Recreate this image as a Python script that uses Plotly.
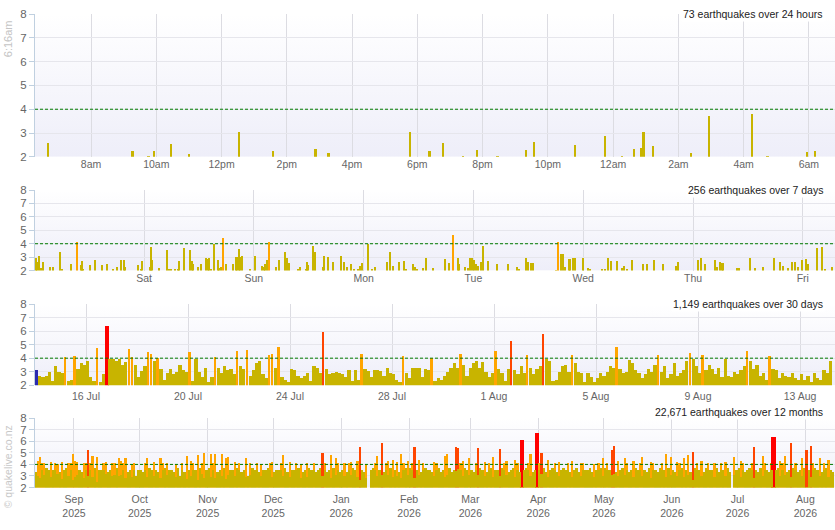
import base64
import pandas as pd
import plotly.graph_objects as go

# ---------------- colours ----------------
OLIVE = "#C8B400"
ORANGE = "#FFA500"
ORANGERED = "#FF4500"
RED = "#FF0000"
BLUE = "#2B2BB0"

# ---------------- 24 hours (individual quakes with M >= 2) ----------------
day_times = ["2026-08-13 06:40", "2026-08-13 09:17", "2026-08-13 09:46", "2026-08-13 09:55",
             "2026-08-13 10:27", "2026-08-13 11:00", "2026-08-13 12:33", "2026-08-13 13:34",
             "2026-08-13 14:53", "2026-08-13 15:17", "2026-08-13 17:46", "2026-08-13 18:23",
             "2026-08-13 18:48", "2026-08-13 19:24", "2026-08-13 19:50", "2026-08-13 20:28",
             "2026-08-13 21:19", "2026-08-13 21:34", "2026-08-13 22:50", "2026-08-13 23:46",
             "2026-08-14 00:16", "2026-08-14 00:39", "2026-08-14 00:52", "2026-08-14 00:56",
             "2026-08-14 01:14", "2026-08-14 02:24", "2026-08-14 02:57", "2026-08-14 04:15",
             "2026-08-14 04:44", "2026-08-14 05:56", "2026-08-14 06:12"]
day_mags = [2.59, 2.26, 2.05, 2.22, 2.55, 2.1, 3.04, 2.22, 2.34, 2.14, 3.04, 2.22,
            2.59, 2.05, 2.3, 2.05, 2.3, 2.63, 2.51, 2.88, 2.05, 2.34, 2.38, 3.04,
            2.47, 2.14, 3.7, 3.78, 2.05, 2.18, 2.26]
day_ticks = ["2026-08-13 08:00", "2026-08-13 10:00", "2026-08-13 12:00", "2026-08-13 14:00",
             "2026-08-13 16:00", "2026-08-13 18:00", "2026-08-13 20:00", "2026-08-13 22:00",
             "2026-08-14 00:00", "2026-08-14 02:00", "2026-08-14 04:00", "2026-08-14 06:00"]
day_ticktext = ["8am", "10am", "12pm", "2pm", "4pm", "6pm", "8pm", "10pm", "12am", "2am", "4am", "6am"]

# ---------------- 7 days (hours after 2026-08-07 00:00, magnitude) ----------------
week_hours = [0.32, 0.69, 1.05, 1.41, 1.85, 3.45, 4.04, 5.64, 6.00, 7.97, 9.28, 10.16, 10.45, 10.74,
              12.2, 13.29, 14.75, 15.84, 17.30, 18.03, 18.97, 19.63, 19.92, 22.62, 23.35, 23.49,
              25.31, 25.53, 25.82, 27.21, 28.96, 29.47, 29.83, 30.78, 31.36, 31.65, 32.82, 34.06,
              34.42, 34.78, 35.80, 36.39, 37.55, 37.92, 38.28, 38.65, 39.23, 40.10, 40.47, 40.83,
              41.34, 41.93, 43.38, 44.11, 44.40, 44.69, 44.98, 45.42, 47.17, 48.26, 49.79, 50.16,
              50.52, 50.89, 51.25, 52.85, 53.51, 54.82, 55.18, 55.77, 57.59, 58.03, 59.41, 59.56,
              59.78, 61.01, 61.45, 63.05, 63.35, 64.22, 65.24, 67.13, 67.79, 68.30, 69.25, 69.90,
              70.70, 71.21, 71.58, 73.04, 73.77, 74.49, 77.04, 77.77, 78.36, 79.81, 80.90, 81.27,
              82.87, 83.24, 83.60,
              85.05, 85.63, 87.24, 89.79, 90.73, 91.46, 92.70, 92.92, 94.16, 94.74, 95.25, 95.76,
              96.20, 96.64, 97.07, 97.66, 98.09, 99.19, 101.08, 103.49, 105.45, 105.96, 107.49,
              107.86, 108.59, 109.1, 113.98, 114.56, 115.07, 115.51, 116.02, 116.89, 117.18,
              117.69, 118.2, 119.88, 121.12, 121.48, 124.18, 124.76, 125.34, 126.0, 127.31,
              128.55, 128.91, 129.64, 130.59, 133.14, 134.01, 135.54, 137.51, 140.21, 140.79,
              145.16, 145.67, 146.62, 148.80, 149.31, 149.9, 150.26, 150.63, 153.54, 153.98,
              156.46, 157.55, 159.37, 161.77, 163.01, 163.6, 164.83, 165.71, 166.29, 167.02,
              167.89, 168.62, 169.2, 171.03, 172.27, 172.85, 174.3]
week_mags = [2.9, 2.6, 3.05, 2.2, 2.65, 2.3, 2.3, 3.35, 2.1, 2.45, 4.1, 2.4, 2.7, 2.1,
             2.4, 2.8, 2.4, 2.45, 2.1, 2.3, 2.75, 2.75, 2.3, 2.4, 2.15, 2.7,
             2.3, 3.72, 2.8, 2.2, 3.5, 2.15, 2.15, 2.15, 2.15, 2.7, 3.65, 3.5,
             2.7, 2.45, 2.3, 2.5, 2.9, 2.85, 2.95, 2.1, 3.95, 2.8, 2.2, 2.3,
             4.4, 2.45, 2.5, 3.0, 3.0, 3.6, 3.0, 3.1, 2.15, 3.1, 2.35, 2.3,
             2.45, 2.8, 4.1, 2.3, 2.75, 3.4, 2.9, 2.55, 2.15, 2.3, 2.15, 2.65,
             2.4, 3.85, 3.35, 2.3, 3.05, 3.0, 2.65, 3.1, 2.65, 2.3, 2.45, 2.1,
             2.15, 2.35, 2.55, 3.98, 2.1, 2.3, 2.6, 3.4, 2.35, 2.65, 2.7, 2.1,
             2.45, 2.3, 2.15,
             2.2, 2.95, 2.2, 2.85, 2.55, 4.65, 2.9, 2.5, 2.25, 2.2, 2.95, 2.9,
             2.75, 2.5, 2.35, 2.65, 3.85, 2.7, 2.5, 2.5, 2.25, 2.15, 2.95,
             2.65, 2.55, 2.55, 2.05, 4.1, 3.25, 3.2, 2.25, 2.85, 2.85,
             2.9, 2.95, 2.95, 2.2, 2.15, 2.1, 2.15, 2.95, 2.7, 2.7,
             2.2, 2.35, 2.1, 2.8, 2.45, 2.45, 2.75, 2.5, 2.35, 2.65,
             2.75, 2.9, 2.5, 2.8, 2.3, 2.6, 2.55, 2.55, 2.2, 2.2,
             2.95, 2.2, 2.25, 2.95, 2.6, 2.35, 2.2, 2.65, 2.6, 2.25,
             2.8, 2.85, 2.45, 3.65, 3.75, 2.1, 2.25]
week_ticks = ["2026-08-08", "2026-08-09", "2026-08-10", "2026-08-11", "2026-08-12", "2026-08-13", "2026-08-14"]
week_ticktext = ["Sat", "Sun", "Mon", "Tue", "Wed", "Thu", "Fri"]

# ---------------- 30 days (largest quake per 3-hour slot from 2026-07-14 00:00) ----------------
month_mags = [
    3.1, 2.7, 2.6, 2.7, 3.0, 2.3, 3.45, 3.0,      # 14 Jul
    2.9, 4.1, 2.3, 2.4, 4.15, 3.2, 3.65, 3.5,     # 15 Jul
    3.8, 2.6, 2.3, 4.75, 2.2, 2.85, 6.4, 3.9,     # 16 Jul
    3.9, 3.8, 3.95, 3.5, 3.7, 4.65, 4.1, 3.5,     # 17 Jul
    2.6, 3.05, 3.45, 4.45, 4.3, 3.8, 4.0, 3.2,    # 18 Jul
    2.4, 2.9, 3.2, 2.8, 3.0, 3.5, 3.1, 3.0,       # 19 Jul
    4.45, 2.3, 3.9, 3.0, 2.6, 3.3, 2.2, 2.6,      # 20 Jul
    4.1, 3.3, 2.9, 3.4, 3.1, 3.2, 2.8, 4.55,      # 21 Jul
    3.4, 3.2, 4.6, 2.7, 3.1, 3.6, 3.8, 2.8,       # 22 Jul
    2.5, 4.25, 4.3, 3.3, 4.85, 2.6, 2.4, 2.2,     # 23 Jul
    3.2, 3.1, 2.7, 2.5, 2.7, 2.9, 2.3, 3.4,       # 24 Jul
    3.3, 2.9, 5.95, 3.2, 2.8, 2.9, 3.0, 2.9,      # 25 Jul
    2.8, 2.6, 3.1, 2.3, 3.15, 2.4, 4.3, 3.2,      # 26 Jul
    3.05, 2.6, 3.1, 3.15, 3.05, 2.7, 3.25, 2.9,   # 27 Jul
    2.8, 2.4, 2.2, 4.15, 2.9, 2.5, 3.3, 3.3,      # 28 Jul
    3.3, 2.6, 3.2, 3.15, 4.0, 2.3, 2.5, 2.4,      # 29 Jul
    2.7, 3.0, 3.3, 3.6, 3.3, 4.3, 3.5, 2.7,       # 30 Jul
    3.3, 3.6, 3.8, 3.3, 3.7, 3.0, 2.6, 2.9,       # 31 Jul
    4.55, 3.2, 2.9, 2.3, 3.2, 5.3, 3.1, 2.8,      # 1 Aug
    3.4, 2.9, 4.2, 3.3, 2.8, 3.2, 3.4, 5.8,       # 2 Aug
    3.9, 3.8, 2.3, 2.4, 3.0, 3.4, 3.5, 3.0,       # 3 Aug
    4.2, 3.6, 3.0, 2.9, 2.2, 2.9, 2.6, 2.2,       # 4 Aug
    2.5, 2.9, 2.7, 3.0, 3.4, 3.3, 4.85, 3.2,      # 5 Aug
    2.9, 3.0, 3.85, 3.6, 3.1, 2.9, 2.5, 2.8,      # 6 Aug
    3.2, 3.0, 3.5, 4.2, 3.0, 3.4, 2.5, 2.8,       # 7 Aug
    3.6, 2.7, 2.9, 3.1, 3.8, 4.35, 3.9, 3.4,      # 8 Aug
    2.9, 4.25, 3.1, 3.5, 3.2, 2.8, 3.3, 2.6,      # 9 Aug
    3.9, 2.7, 2.6, 3.0, 2.8, 3.1, 3.4, 4.5,       # 10 Aug
    3.8, 3.2, 3.5, 2.7, 2.9, 2.4, 4.15, 3.2,      # 11 Aug
    3.1, 2.5, 2.9, 2.7, 2.6, 2.9, 2.5, 2.4,       # 12 Aug
    2.8, 2.4, 2.7, 2.2, 2.9, 2.5, 2.4, 3.1,       # 13 Aug
    2.9, 3.8,                                     # 14 Aug
]
month_ticks = ["2026-07-16", "2026-07-20", "2026-07-24", "2026-07-28",
               "2026-08-01", "2026-08-05", "2026-08-09", "2026-08-13"]
month_ticktext = ["16 Jul", "20 Jul", "24 Jul", "28 Jul", "1 Aug", "5 Aug", "9 Aug", "13 Aug"]

# ---------------- 12 months (daily values from 2025-08-14) ----------------
# largest quake of each day
year_max = [
    3.3, 4.3, 4.6, 4.1, 4.1, 3.7, 3.5, 4.2, 3.5, 4.1, 4.0, 3.3, 4.2, 3.5, 3.7, 4.1, 4.1, 4.85,  # Aug 25
    4.25, 4.2, 3.5, 3.3, 4.1, 4.1, 5.2, 4.1, 4.75, 3.7, 4.6, 3.5, 3.5, 4.1, 4.2, 3.3, 3.5, 4.1,
    4.1, 3.7, 4.5, 4.3, 4.1, 4.5, 3.3, 3.5, 4.0, 4.1, 3.0, 3.5,  # Sep
    3.5, 3.3, 4.1, 4.5, 3.7, 3.5, 4.2, 3.5, 3.3, 4.5, 4.1, 3.7, 4.1, 3.5, 3.5, 3.3, 4.0, 3.7,
    3.0, 4.1, 3.3, 4.7, 3.5, 4.3, 4.1, 3.5, 4.8, 3.7, 4.1, 4.95, 3.5,  # Oct
    3.7, 4.85, 4.1, 4.85, 3.3, 3.5, 4.9, 3.7, 4.5, 4.6, 3.5, 3.5, 4.2, 3.7, 4.1, 3.3, 3.5, 4.5,
    3.0, 4.1, 3.7, 3.5, 4.1, 3.3, 4.0, 3.5, 3.5, 3.7, 4.1, 4.2,  # Nov
    3.3, 3.5, 3.5, 4.1, 4.8, 3.7, 3.3, 4.2, 3.5, 3.5, 4.1, 3.7, 4.0, 3.3, 3.5, 4.1, 3.7, 3.5,
    4.1, 3.3, 3.5, 3.7, 5.0, 4.1, 3.3, 3.5, 4.8, 3.7, 4.5, 4.1, 3.3,  # Dec
    3.5, 4.1, 3.3, 4.1, 4.2, 3.7, 3.5, 4.3, 5.45, 3.5, 3.3, 4.0, 0, 3.5, 3.7, 4.1, 4.7, 3.5,
    5.8, 3.3, 4.1, 4.3, 3.7, 4.4, 3.5, 4.2, 3.3, 4.9, 4.1, 3.7, 4.3,  # Jan 26
    3.7, 4.1, 5.5, 3.5, 4.4, 3.3, 4.1, 3.7, 3.5, 3.5, 3.3, 4.2, 4.1, 3.7, 3.3, 3.5, 4.7, 4.9,
    3.7, 3.3, 3.5, 5.5, 5.4, 4.1, 4.3, 3.7, 3.5, 4.5,  # Feb
    3.5, 3.3, 4.1, 5.4, 3.7, 3.5, 4.2, 3.3, 4.1, 3.7, 4.6, 3.5, 3.5, 5.3, 3.7, 4.1, 4.3, 3.3,
    3.5, 3.7, 4.4, 4.1, 3.3, 6.1, 3.5, 3.7, 4.1, 4.9, 3.3, 3.5, 6.7,  # Mar
    4.1, 5.0, 3.7, 3.3, 4.4, 3.5, 3.7, 4.1, 3.3, 4.2, 3.5, 3.7, 3.5, 4.1, 3.3, 4.3, 3.5, 3.7,
    3.3, 4.1, 4.1, 3.5, 3.5, 3.7, 3.3, 4.0, 3.5, 4.1, 3.7, 4.5,  # Apr
    3.7, 4.1, 3.5, 5.2, 5.6, 3.3, 4.3, 3.5, 3.7, 4.5, 4.1, 3.3, 3.5, 4.3, 3.7, 3.5, 4.1, 4.6,
    3.5, 3.3, 3.7, 4.2, 4.1, 3.5, 3.3, 3.7, 4.1, 3.5, 4.85, 3.7, 4.6,  # May
    3.5, 3.3, 4.2, 4.1, 3.7, 4.5, 3.5, 4.8, 3.3, 5.1, 3.7, 4.1, 3.5, 4.3, 3.3, 3.7, 4.1, 3.5,
    3.5, 4.1, 3.7, 3.3, 4.1, 3.5, 4.2, 3.7, 3.3, 0, 4.6, 3.5,  # Jun
    3.7, 4.3, 4.1, 3.3, 3.5, 3.7, 4.1, 5.5, 3.5, 3.3, 3.7, 4.7, 4.1, 3.5, 3.3, 4.1, 6.4, 3.5,
    3.7, 4.3, 4.1, 4.7, 3.3, 3.5, 5.8, 3.7, 4.1, 3.3, 3.5, 4.5, 3.7,  # Jul
    5.2, 3.5, 5.6, 4.1, 3.7, 3.5, 4.5, 3.3, 4.1, 3.7, 4.4, 3.5, 3.3,  # Aug 26
]
# largest quake below M4 of each day
year_minor = [
    3.2, 3.0, 2.8, 3.5, 3.1, 3.3, 3.4, 2.9, 3.1, 3.5, 3.2, 3.2, 2.7, 3.4, 3.3, 3.0, 3.5, 2.6,
    2.9, 3.1, 3.4, 3.2, 2.8, 3.5, 3.0, 3.5, 2.9, 3.3, 2.5, 3.4, 3.1, 3.5, 3.2, 3.2, 3.4, 3.0,
    3.1, 3.3, 3.0, 3.1, 3.5, 2.8, 3.2, 3.4, 2.9, 3.5, 3.0, 3.4,
    3.4, 3.2, 3.5, 2.9, 3.3, 3.1, 3.0, 3.4, 3.2, 2.8, 3.5, 3.3, 3.1, 3.1, 3.4, 3.2, 2.9, 3.3,
    3.0, 3.5, 3.2, 2.7, 3.4, 3.0, 3.5, 3.1, 2.6, 3.3, 3.2, 2.8, 3.4,
    3.3, 2.9, 3.5, 2.8, 3.2, 3.4, 3.0, 3.3, 2.7, 3.1, 3.4, 3.1, 3.0, 3.3, 3.5, 3.2, 3.4, 2.9,
    3.0, 3.1, 3.3, 3.1, 3.5, 3.2, 3.0, 3.4, 3.1, 3.3, 3.5, 2.9,
    3.2, 3.4, 3.1, 3.5, 3.0, 3.3, 3.2, 2.9, 3.4, 3.1, 3.5, 3.3, 2.8, 3.2, 3.4, 2.9, 3.3, 3.1,
    3.5, 3.2, 3.4, 3.3, 3.0, 3.5, 3.2, 3.4, 2.8, 3.3, 3.1, 3.5, 3.2,
    3.4, 3.0, 3.2, 3.5, 3.1, 3.3, 3.1, 2.9, 2.6, 3.4, 3.2, 2.8, 0, 3.1, 3.3, 3.5, 3.0, 3.4,
    3.1, 3.2, 3.5, 3.1, 3.3, 2.9, 3.4, 3.0, 3.2, 2.8, 3.5, 3.3, 3.1,
    3.3, 3.5, 2.8, 3.4, 3.1, 3.2, 3.5, 3.3, 3.1, 3.4, 3.2, 3.0, 3.5, 3.3, 3.2, 3.4, 2.9, 3.1,
    3.3, 3.2, 3.4, 3.4, 3.6, 3.5, 3.0, 3.3, 3.4, 3.1,
    3.4, 3.2, 3.5, 3.1, 3.3, 3.4, 3.0, 3.2, 3.5, 3.3, 2.9, 3.1, 3.4, 3.0, 3.3, 3.5, 3.1, 3.2,
    3.4, 3.3, 2.9, 3.5, 3.2, 2.0, 3.4, 3.3, 3.5, 3.0, 3.2, 3.4, 2.0,
    3.5, 3.2, 3.3, 3.2, 2.9, 3.4, 3.3, 3.5, 3.2, 3.0, 3.4, 3.3, 3.1, 3.5, 3.2, 2.9, 3.4, 3.3,
    3.2, 3.0, 3.5, 3.1, 3.4, 3.3, 3.2, 2.9, 3.4, 3.5, 3.3, 3.0,
    3.3, 3.5, 3.4, 3.1, 3.2, 3.2, 3.0, 3.4, 3.3, 3.1, 3.5, 3.2, 3.4, 2.9, 3.3, 3.1, 3.5, 3.0,
    3.4, 3.2, 3.3, 2.8, 3.5, 3.4, 3.2, 3.3, 3.5, 3.4, 2.9, 3.3, 3.1,
    3.4, 3.2, 3.0, 3.5, 3.3, 2.9, 3.4, 3.1, 3.2, 2.6, 3.3, 3.5, 3.4, 3.0, 3.2, 3.3, 3.5, 3.1,
    3.4, 2.9, 3.3, 3.2, 3.5, 3.4, 3.0, 3.3, 3.2, 0, 3.1, 3.4,
    3.3, 2.9, 3.5, 3.2, 3.4, 3.3, 3.5, 2.8, 3.4, 3.2, 3.3, 3.0, 3.5, 3.4, 3.2, 3.5, 2.0, 3.4,
    3.3, 3.0, 3.5, 3.1, 3.2, 3.4, 2.9, 3.3, 3.5, 3.2, 3.4, 3.0, 3.3,
    2.0, 3.4, 2.9, 3.5, 3.3, 3.4, 3.0, 3.2, 3.5, 3.3, 2.9, 3.4, 3.2,
]
year_ticks = ["2025-09-01", "2025-10-01", "2025-11-01", "2025-12-01", "2026-01-01", "2026-02-01",
              "2026-03-01", "2026-04-01", "2026-05-01", "2026-06-01", "2026-07-01", "2026-08-01"]
year_ticktext = ["Sep<br>2025", "Oct<br>2025", "Nov<br>2025", "Dec<br>2025", "Jan<br>2026", "Feb<br>2026",
                 "Mar<br>2026", "Apr<br>2026", "May<br>2026", "Jun<br>2026", "Jul<br>2026", "Aug<br>2026"]

titles = ["73 earthquakes over 24 hours", "256 earthquakes over 7 days",
          "1,149 earthquakes over 30 days", "22,671 earthquakes over 12 months"]

assert len(day_times) == len(day_mags)
assert len(week_hours) == len(week_mags)
assert len(year_max) == 365 and len(year_minor) == 365


def mag_color(m):
    if m >= 6:
        return RED
    if m >= 5:
        return ORANGERED
    if m >= 4:
        return ORANGE
    return OLIVE


# ---------------- figure ----------------
W, H = 835, 530
FONT = "Liberation Sans, Arial, sans-serif"
TICKC = "#666666"
GRID = "#E6E6EC"
VGRID = "#DCDCE2"
AXLINE = "#C0D0E0"


def ydom(top_px, bot_px):
    return [1 - bot_px / H, 1 - top_px / H]


doms = [ydom(8.3, 154.3), ydom(188.3, 270.7), ydom(305, 388), ydom(421.7, 492.7)]
ranges = [["2026-08-13 06:17", "2026-08-14 06:48"],
          ["2026-08-07 00:10", "2026-08-14 07:02"],
          ["2026-07-14 00:00", "2026-08-14 08:53"],
          ["2025-08-14 05:00", "2026-08-14 12:00"]]
standoffs = [0, 0, 3, 4]

fig = go.Figure()

# 24 hours
fig.add_trace(go.Bar(x=pd.to_datetime(day_times), y=day_mags, width=220000,
                     marker=dict(color=[mag_color(m) for m in day_mags], line_width=0),
                     xaxis="x", yaxis="y"))

# 7 days
week_x = pd.Timestamp("2026-08-07") + pd.to_timedelta(week_hours, unit="h")
fig.add_trace(go.Bar(x=week_x, y=week_mags, width=1.6e6,
                     marker=dict(color=[mag_color(m) for m in week_mags], line_width=0),
                     xaxis="x2", yaxis="y2"))

# 30 days
SLOT = 3 * 3600 * 1000
month_x = pd.Timestamp("2026-07-14 01:30") + pd.to_timedelta([3 * i for i in range(len(month_mags))], unit="h")
mcol = [mag_color(m) for m in month_mags]
mcol[0] = BLUE
mwid = [SLOT * (1.3 if m >= 6 else 0.45 if m >= 5 else 0.6 if m >= 4 else 1.0) for m in month_mags]
fig.add_trace(go.Bar(x=month_x, y=month_mags, width=mwid,
                     marker=dict(color=mcol, line_width=0), xaxis="x3", yaxis="y3"))

# 12 months: daily maximum, then the largest small quake on top
DAY = 86400 * 1000
year_x = pd.date_range("2025-08-14 12:00", periods=365, freq="D")
fig.add_trace(go.Bar(x=year_x, y=year_max, width=[DAY * (2 if m >= 6 else 1) for m in year_max],
                     marker=dict(color=[mag_color(m) for m in year_max], line_width=0),
                     xaxis="x4", yaxis="y4"))
olive_h = [mn if mx >= 4 else mx for mx, mn in zip(year_max, year_minor)]
fig.add_trace(go.Bar(x=year_x, y=olive_h, width=DAY,
                     marker=dict(color=OLIVE, line_width=0), xaxis="x4", yaxis="y4"))

# gradient background image
svg = ('<svg xmlns="http://www.w3.org/2000/svg" width="10" height="100" viewBox="0 0 10 100" '
       'preserveAspectRatio="none"><defs><linearGradient id="g" x1="0" y1="0" x2="0" y2="1">'
       '<stop offset="0" stop-color="#ffffff"/><stop offset="1" stop-color="#EEEEF9"/>'
       '</linearGradient></defs><rect width="10" height="100" fill="url(#g)"/></svg>')
svg_uri = "data:image/svg+xml;base64," + base64.b64encode(svg.encode()).decode()

ticks_all = [(day_ticks, day_ticktext), (week_ticks, week_ticktext),
             (month_ticks, month_ticktext), (year_ticks, year_ticktext)]

layout = dict(width=W, height=H, margin=dict(l=35, r=0, t=0, b=0),
              paper_bgcolor="white", plot_bgcolor="rgba(0,0,0,0)",
              showlegend=False, barmode="overlay", bargap=0,
              font=dict(family=FONT, size=11, color=TICKC))
images, shapes, annotations = [], [], []
for i in range(4):
    sfx = "" if i == 0 else str(i + 1)
    tv, tt = ticks_all[i]
    layout["xaxis" + sfx] = dict(domain=[0, 1], anchor="y" + sfx, range=ranges[i], type="date",
                                 tickvals=tv, ticktext=tt, showgrid=True, gridcolor=VGRID,
                                 gridwidth=1, zeroline=False, showline=False, ticks="",
                                 ticklabelstandoff=standoffs[i],
                                 tickfont=dict(family=FONT, size=10.5, color=TICKC), fixedrange=True)
    layout["yaxis" + sfx] = dict(domain=doms[i], anchor="x" + sfx, range=[2, 8],
                                 tickvals=[2, 3, 4, 5, 6, 7, 8], showgrid=True, gridcolor=GRID,
                                 zeroline=False, showline=True, linecolor=AXLINE, linewidth=1,
                                 ticks="outside", ticklen=5, tickcolor=AXLINE,
                                 tickfont=dict(family=FONT, size=11.5, color=TICKC), fixedrange=True)
    images.append(dict(source=svg_uri, xref="paper", yref="paper", x=0, y=doms[i][1],
                       sizex=1, sizey=doms[i][1] - doms[i][0], xanchor="left", yanchor="top",
                       sizing="stretch", layer="below"))
    shapes.append(dict(type="line", xref="x" + sfx + " domain", yref="y" + sfx, x0=0, x1=1,
                       y0=4, y1=4, line=dict(color="#007A00", width=1, dash="3px,2px")))
    ty = doms[i][1] if i < 3 else doms[i][1] + 6 / H
    annotations.append(dict(text=titles[i], xref="paper", yref="paper", x=0.9875, y=ty,
                            xanchor="right", yanchor="middle", showarrow=False,
                            bgcolor="white", borderpad=1,
                            font=dict(family=FONT, size=10.5, color="#222222")))

annotations.append(dict(text="6:16am", xref="paper", yref="paper", x=-27 / 800, y=1 - 34 / H,
                        xanchor="center", yanchor="middle", textangle=-90, showarrow=False,
                        font=dict(family=FONT, size=11, color="#C4C4C4")))
annotations.append(dict(text="© quakelive.co.nz", xref="paper", yref="paper", x=-27 / 800,
                        y=1 - 472 / H, xanchor="center", yanchor="middle", textangle=-90,
                        showarrow=False, font=dict(family=FONT, size=10.5, color="#C8C8C8")))

layout["images"] = images
layout["shapes"] = shapes
layout["annotations"] = annotations
fig.update_layout(**layout)

fig.write_html("out.html", config={"displayModeBar": False},
               post_script="document.body.style.margin='0';document.body.style.overflow='hidden';")
